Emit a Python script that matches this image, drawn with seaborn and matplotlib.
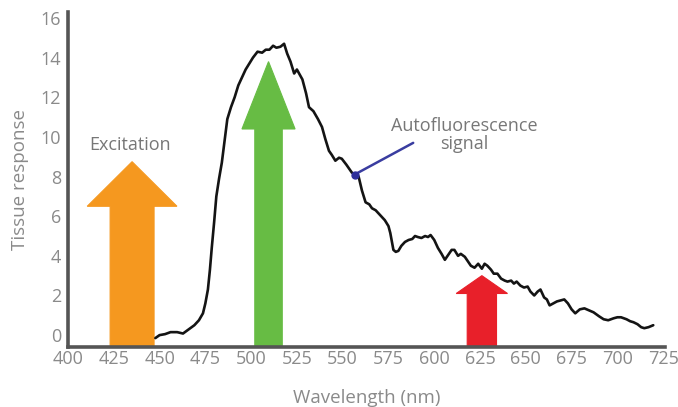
import matplotlib
matplotlib.use("Agg")
import matplotlib.pyplot as plt
import seaborn as sns
import pandas as pd

# autofluorescence spectrum
wavelength = [447.7, 450, 453, 456, 459.6, 462.8, 466, 469, 471.5, 473.7, 475, 476.4, 477.5, 478.5,
              479.8, 481, 482.5, 484, 485.5, 487, 489, 491, 493, 495, 497, 499, 501, 503.5, 506, 508,
              510, 512, 513.8, 516, 518, 519.7, 521.5, 523.5, 525, 528, 530, 531.6, 534, 536.5, 538.7,
              540.5, 542.5, 544, 546, 548, 549.5, 552, 555, 557, 558.7, 560.5, 562.5, 564.5, 566, 568,
              570, 571.5, 573, 575, 576, 577.7, 579, 580.4, 582, 584, 586, 588, 589.5, 591, 593, 595,
              596.6, 598, 600, 602, 604, 605.8, 608, 609.5, 611, 613, 614.5, 616.7, 618.5, 620, 622,
              624, 626, 627.5, 629, 631, 632.5, 634.5, 636.5, 638.5, 640, 642, 643.5, 645, 647, 649,
              651, 652.5, 654.6, 656.5, 658, 660, 661.5, 663, 665, 667, 669, 671, 673, 675, 677,
              679.5, 682, 684.5, 687, 690, 692.5, 695, 698, 700, 702, 705, 707, 708.8, 711, 713,
              714.7, 717, 719.6]
response = [-0.15, 0.0, 0.05, 0.15, 0.15, 0.08, 0.3, 0.5, 0.75, 1.1, 1.6, 2.3, 3.3, 4.4,
            5.7, 7.0, 7.9, 8.7, 9.8, 10.9, 11.5, 12.0, 12.6, 13.0, 13.4, 13.7, 14.0, 14.3, 14.25, 14.4,
            14.4, 14.6, 14.5, 14.55, 14.7, 14.2, 13.8, 13.2, 13.4, 12.9, 12.2, 11.5, 11.3, 10.9, 10.5,
            9.9, 9.3, 9.1, 8.8, 8.95, 8.9, 8.6, 8.2, 8.1, 8.0, 7.3, 6.7, 6.6, 6.4, 6.3,
            6.1, 5.95, 5.8, 5.5, 5.15, 4.3, 4.2, 4.25, 4.5, 4.7, 4.8, 4.85, 5.0, 4.95, 4.9, 5.0,
            4.95, 5.05, 4.8, 4.4, 4.1, 3.8, 4.1, 4.3, 4.3, 4.0, 4.1, 3.95, 3.7, 3.5, 3.4,
            3.6, 3.35, 3.6, 3.5, 3.3, 3.1, 3.1, 2.85, 2.75, 2.7, 2.75, 2.6, 2.7, 2.5, 2.4,
            2.45, 2.2, 2.0, 2.2, 2.3, 1.9, 1.8, 1.5, 1.6, 1.7, 1.75, 1.8, 1.6, 1.3, 1.1,
            1.3, 1.35, 1.25, 1.15, 0.95, 0.8, 0.75, 0.85, 0.9, 0.9, 0.8, 0.7, 0.65, 0.55, 0.4,
            0.35, 0.4, 0.5]

# excitation arrows: centre wavelength, shaft width, head width, tip, head length (nm / response units)
arrow_center = [435, 509.5, 626]
arrow_width = [24, 15, 16]
arrow_head_width = [49, 29, 28]
arrow_tip = [8.75, 13.8, 3.0]
arrow_head_len = [2.25, 3.4, 0.9]
arrow_color = ["#F5981F", "#67BC44", "#E8202A"]

x_ticks = [400, 425, 450, 475, 500, 525, 550, 575, 600, 625, 650, 675, 700, 725]
y_ticks = [0, 2, 4, 6, 8, 10, 12, 14, 16]

sns.set_style("white")
plt.rcParams['font.family'] = ['Open Sans', 'DejaVu Sans']

fig = plt.figure(figsize=(6.78, 4.07), dpi=100)
ax = fig.add_axes([0.1003, 0.1474, 0.8805, 0.823])
y0 = -0.6

for c, w, hw, tip, hl, col in zip(arrow_center, arrow_width, arrow_head_width, arrow_tip, arrow_head_len, arrow_color):
    ax.arrow(c, y0, 0, tip - y0, width=w, head_width=hw, head_length=hl,
             length_includes_head=True, fc=col, ec=col, lw=0.8, zorder=2)

df = pd.DataFrame({"wavelength": wavelength, "response": response})
sns.lineplot(data=df, x="wavelength", y="response", estimator=None, sort=False,
             color="#141414", lw=1.9, ax=ax, zorder=3)

# autofluorescence pointer
ax.plot([588.5, 556.5], [9.7, 8.1], color="#3A3DA0", lw=1.8, zorder=4, solid_capstyle="round")
ax.plot([556.5], [8.1], "o", color="#2E2F9A", ms=5, zorder=5)

ax.text(434, 9.6, "Excitation", ha="center", va="center", color="#777777", fontsize=13)
ax.text(616.5, 10.1, "Autofluorescence\nsignal", ha="center", va="center", color="#777777",
        fontsize=13, linespacing=1.0)

ax.set_xlim(400, 726)
ax.set_ylim(y0, 16.3)
ax.set_xticks(x_ticks)
ax.set_yticks(y_ticks)
ax.tick_params(axis="both", length=0, labelcolor="#8a8a8a", labelsize=13)
ax.tick_params(axis="y", pad=5)
ax.tick_params(axis="x", pad=2)
sns.despine(ax=ax)
for s in ["left", "bottom"]:
    ax.spines[s].set_color("#555555")
    ax.spines[s].set_linewidth(2.6)
ax.set_xlabel("Wavelength (nm)", color="#8a8a8a", fontsize=13.5, labelpad=15)
ax.set_ylabel("Tissue response", color="#8a8a8a", fontsize=13.5, labelpad=8)

fig.savefig("out.png", dpi=100)
